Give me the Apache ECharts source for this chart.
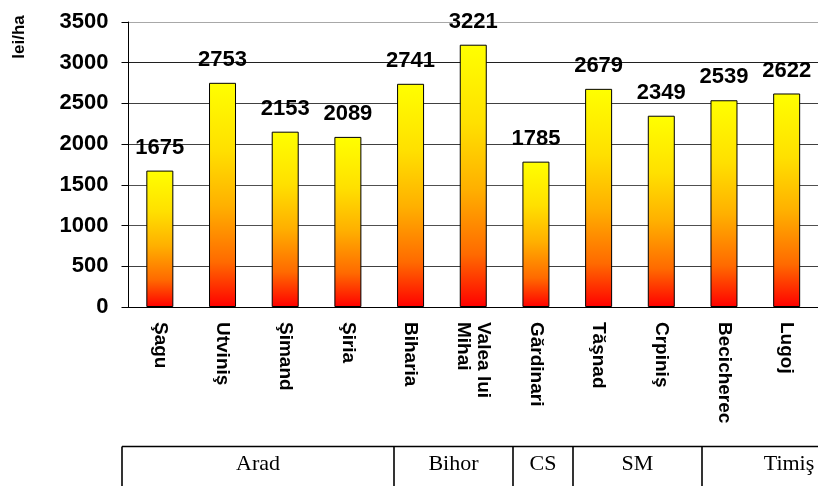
<!DOCTYPE html>
<html>
<head>
<meta charset="utf-8">
<script src="https://cdn.jsdelivr.net/npm/echarts@6.0.0/dist/echarts.min.js"></script>
<style>
  html, body { margin: 0; padding: 0; background: #fff; }
  #chart { width: 818px; height: 486px; }
</style>
</head>
<body>
<div id="chart"></div>
<script>
// localitati si valori (lei/ha)
const localitati = ['Şagu', 'Utviniş', 'Şimand', 'Şiria', 'Biharia', 'Valea lui Mihai',
  'Gărdinari', 'Tăşnad', 'Crpiniş', 'Becicherec', 'Lugoj']
const valori = [1675, 2753, 2153, 2089, 2741, 3221, 1785, 2679, 2349, 2539, 2622]

// judete (tabelul de jos) si marginile coloanelor
const judete = ['Arad', 'Bihor', 'CS', 'SM', 'Timiş']
const judetMargini = [122, 394, 513, 573, 702, 884]

const yTicks = [0, 500, 1000, 1500, 2000, 2500, 3000, 3500]

const chart = echarts.init(document.getElementById('chart'))

const font = 'Liberation Sans, Arial, sans-serif'
const serif = 'Liberation Serif, Times New Roman, serif'

// tabelul cu judetele, sub grafic
const tableTop = 446.5
const tableEls = [{
  type: 'line',
  shape: {x1: judetMargini[0], y1: tableTop, x2: 818, y2: tableTop},
  style: {stroke: '#000', lineWidth: 1.6}
}]
judetMargini.slice(0, -1).forEach(x => {
  tableEls.push({
    type: 'line',
    shape: {x1: x, y1: tableTop, x2: x, y2: 490},
    style: {stroke: '#000', lineWidth: 1.6}
  })
})
judete.forEach((j, i) => {
  tableEls.push({
    type: 'text',
    x: (judetMargini[i] + judetMargini[i + 1]) / 2 - (i === judete.length - 1 ? 4 : 0),
    y: 464,
    style: {text: j, font: '22px ' + serif, fill: '#000', align: 'center', verticalAlign: 'middle'}
  })
})

const option = {
  animation: false,
  grid: {left: 128.5, right: -8, top: 22, bottom: 179, containLabel: false},
  xAxis: {
    type: 'category',
    data: localitati,
    axisLine: {lineStyle: {color: '#000', width: 1}},
    axisTick: {length: 6, lineStyle: {color: '#000'}},
    axisLabel: {
      rotate: -90,
      margin: 15,
      interval: 0,
      color: '#000',
      fontFamily: font,
      fontWeight: 'bold',
      fontSize: 19,
      lineHeight: 20,
      formatter: v => v.replace('lui ', 'lui\n')
    }
  },
  yAxis: {
    type: 'value',
    min: yTicks[0],
    max: yTicks[yTicks.length - 1],
    interval: 500,
    axisLine: {show: true, lineStyle: {color: '#000', width: 1}},
    axisTick: {show: true, length: 7, lineStyle: {color: '#000'}},
    axisLabel: {
      margin: 20,
      color: '#000',
      fontFamily: font,
      fontWeight: 'bold',
      fontSize: 22,
      formatter: v => String(v)
    },
    splitLine: {
      show: true,
      lineStyle: {
        color: ['#000', '#404040', '#505050', '#505050', '#404040', '#404040', '#202020', '#a8a8a8'],
        width: 1.2
      }
    }
  },
  series: [{
    type: 'bar',
    data: valori,
    barWidth: 27,
    itemStyle: {
      borderColor: '#000',
      borderWidth: 1,
      color: {
        type: 'linear', x: 0, y: 0, x2: 0, y2: 1,
        colorStops: [
          {offset: 0, color: '#ffff00'},
          {offset: 0.3, color: '#ffe000'},
          {offset: 0.55, color: '#ffb000'},
          {offset: 0.8, color: '#ff6a00'},
          {offset: 1, color: '#ff0000'}
        ]
      }
    },
    label: {
      show: true,
      position: 'top',
      distance: 12,
      color: '#000',
      fontFamily: font,
      fontWeight: 'bold',
      fontSize: 22
    }
  }],
  graphic: [
    {
      type: 'text',
      x: 19,
      y: 37,
      rotation: Math.PI / 2,
      style: {text: 'lei/ha', font: 'bold 17px ' + font, fill: '#000', align: 'center', verticalAlign: 'middle'}
    },
    {type: 'group', children: tableEls}
  ]
}

chart.setOption(option)
</script>
</body>
</html>
